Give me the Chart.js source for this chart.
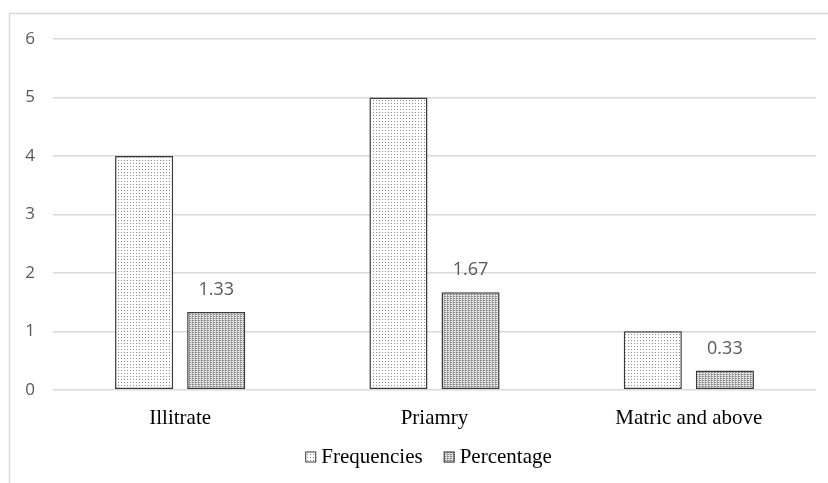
<!DOCTYPE html>
<html lang="en">
<head>
    <meta charset="UTF-8">
    <title>Education level</title>
    <script src="https://cdn.jsdelivr.net/npm/chart.js@4.4.0/dist/chart.umd.min.js"></script>
    <style>
        body { margin: 0; background: #fff; overflow: hidden; }
        #wrap { position: relative; width: 828px; height: 483px; }
    </style>
</head>
<body>
    <div id="wrap"><canvas id="chart" width="828" height="483"></canvas></div>
    <script>
        const categories = ['Illitrate', 'Priamry', 'Matric and above'];
        const frequencies = [4, 5, 1];
        const percentage = [1.33, 1.67, 0.33];
        const yTicks = [0, 1, 2, 3, 4, 5, 6];

        const serif = '"Liberation Serif", "Times New Roman", serif';
        const sans = '"Open Sans", sans-serif';

        // fill patterns like the office chart
        function makePattern(w, h, draw) {
            const c = document.createElement('canvas');
            c.width = w; c.height = h;
            const p = c.getContext('2d');
            p.fillStyle = '#fff';
            p.fillRect(0, 0, w, h);
            draw(p);
            return p.createPattern(c, 'repeat');
        }
        const dotPattern = makePattern(3, 3, p => {
            p.fillStyle = '#8c8c8c';
            p.fillRect(1, 1, 1, 1);
        });
        const gridPattern = makePattern(3, 2, p => {
            p.fillStyle = '#8a8a8a';
            p.fillRect(0, 0, 2, 1);
            p.fillStyle = '#b5b5b5';
            p.fillRect(0, 1, 1, 1);
            p.fillStyle = '#d6d6d6';
            p.fillRect(2, 0, 1, 2);
        });

        // outer frame, like the chart area border in the source
        const framePlugin = {
            id: 'frame',
            beforeDraw(chart) {
                const ctx = chart.ctx;
                ctx.save();
                ctx.strokeStyle = '#d9d9d9';
                ctx.lineWidth = 1.5;
                ctx.beginPath();
                ctx.moveTo(9.5, 490);
                ctx.lineTo(9.5, 13.5);
                ctx.lineTo(840, 13.5);
                ctx.stroke();
                ctx.restore();
            }
        };

        // value labels on the percentage bars
        const labelPlugin = {
            id: 'valueLabels',
            afterDatasetsDraw(chart) {
                const ctx = chart.ctx;
                const meta = chart.getDatasetMeta(1);
                ctx.save();
                ctx.fillStyle = '#595959';
                ctx.font = '18px ' + sans;
                ctx.textAlign = 'center';
                ctx.textBaseline = 'middle';
                meta.data.forEach((bar, i) => {
                    ctx.fillText(percentage[i].toFixed(2), bar.x, bar.y - 22);
                });
                ctx.restore();
            }
        };

        // legend drawn by hand so the box/text spacing matches
        const legendPlugin = {
            id: 'customLegend',
            afterDraw(chart) {
                const ctx = chart.ctx;
                const box = 11, gap = 5, itemGap = 21;
                ctx.save();
                ctx.font = '21px ' + serif;
                const items = chart.data.datasets.map(ds => ({
                    label: ds.label, fill: ds.backgroundColor, w: ctx.measureText(ds.label).width
                }));
                const total = items.reduce((s, it) => s + box + gap + it.w, 0) + itemGap * (items.length - 1);
                let x = (chart.chartArea.left + chart.chartArea.right) / 2 - 6 - total / 2;
                const y = 457;
                items.forEach(it => {
                    ctx.fillStyle = it.fill;
                    ctx.fillRect(x, y - box / 2, box, box);
                    ctx.strokeStyle = '#3a3a3a';
                    ctx.lineWidth = 1;
                    ctx.strokeRect(x + 0.5, y - box / 2 + 0.5, box - 1, box - 1);
                    x += box + gap;
                    ctx.fillStyle = '#000';
                    ctx.textBaseline = 'middle';
                    ctx.textAlign = 'left';
                    ctx.fillText(it.label, x, y);
                    x += it.w + itemGap;
                });
                ctx.restore();
            }
        };

        new Chart(document.getElementById('chart'), {
            type: 'bar',
            data: {
                labels: categories,
                datasets: [{
                    label: 'Frequencies',
                    data: frequencies,
                    backgroundColor: dotPattern,
                    borderColor: '#3a3a3a',
                    borderWidth: 1.5,
                    borderSkipped: false
                }, {
                    label: 'Percentage',
                    data: percentage,
                    backgroundColor: gridPattern,
                    borderColor: '#3a3a3a',
                    borderWidth: 1.5,
                    borderSkipped: false
                }]
            },
            options: {
                responsive: false,
                animation: false,
                datasets: { bar: { categoryPercentage: 0.567, barPercentage: 0.806 } },
                layout: { padding: { left: 0, right: 12, top: 39, bottom: 44 } },
                scales: {
                    x: {
                        grid: { display: false },
                        border: { display: false },
                        ticks: {
                            color: '#000',
                            font: { family: serif, size: 21 },
                            padding: 8
                        }
                    },
                    y: {
                        min: 0,
                        max: 6,
                        afterFit(scale) { scale.width = 53; },
                        afterBuildTicks(scale) { scale.ticks = yTicks.map(v => ({ value: v })); },
                        grid: { color: '#d9d9d9', lineWidth: 1.5, drawTicks: false },
                        border: { display: false },
                        ticks: {
                            color: '#595959',
                            font: { family: sans, size: 17 },
                            padding: 18
                        }
                    }
                },
                plugins: {
                    legend: { display: false },
                    tooltip: { enabled: false }
                }
            },
            plugins: [framePlugin, labelPlugin, legendPlugin]
        });
    </script>
</body>
</html>
